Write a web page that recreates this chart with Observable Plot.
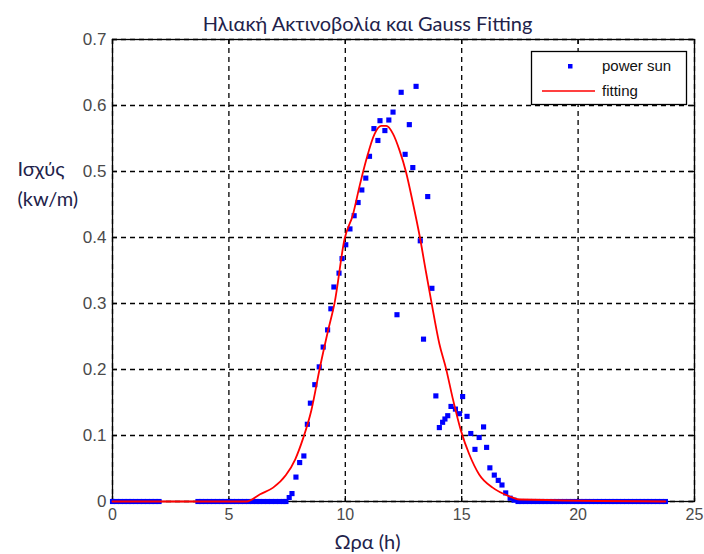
<!DOCTYPE html>
<html>
<head>
<meta charset="utf-8">
<script src="https://cdn.jsdelivr.net/npm/d3@7"></script>
<script src="https://cdn.jsdelivr.net/npm/@observablehq/plot@0.6"></script>
<style>
  html, body { margin: 0; padding: 0; background: #fff; }
  #chart { width: 704px; height: 554px; }
</style>
</head>
<body>
<div id="chart"></div>
<script>
// Night-time samples (power 0)
const nightHours = [
  0, 0.17, 0.33, 0.5, 0.67, 0.83, 1, 1.17, 1.33, 1.5, 1.67, 1.83, 2,
  3.67, 3.83, 4, 4.17, 4.33, 4.5, 4.67, 4.83, 5, 5.17, 5.33, 5.5, 5.67, 5.83,
  6, 6.17, 6.33, 6.5, 6.67, 6.83, 7, 7.17, 7.33, 7.45,
  17.42, 17.58, 17.75, 17.92, 18.08, 18.25, 18.42, 18.58, 18.75, 18.92,
  19.08, 19.25, 19.42, 19.58, 19.75, 19.92, 20.08, 20.25, 20.42, 20.58,
  20.75, 20.92, 21.08, 21.25, 21.42, 21.58, 21.75, 21.92, 22.08, 22.25,
  22.42, 22.58, 22.75, 22.92, 23.08, 23.25, 23.42, 23.58, 23.75
];

// Daytime samples: hour and measured power (kw/m)
const dayHours = [
  7.59, 7.71, 7.88, 8.04, 8.22, 8.37, 8.50, 8.69, 8.88, 9.05, 9.24, 9.38,
  9.51, 9.73, 9.86, 10.02, 10.20, 10.38, 10.55, 10.71, 10.88, 11.04, 11.23, 11.40,
  11.49, 11.70, 11.87, 12.05, 12.22, 12.40, 12.57, 12.75, 12.90, 13.04, 13.22, 13.36,
  13.54, 13.72, 13.89, 14.04, 14.18, 14.28, 14.40, 14.54, 14.73, 14.90, 15.04, 15.23,
  15.39, 15.57, 15.75, 15.94, 16.07, 16.21, 16.40, 16.57, 16.73, 16.89, 17.08, 17.25
];
const dayPower = [
  0.006, 0.012, 0.037, 0.059, 0.069, 0.117, 0.149, 0.177, 0.204, 0.234, 0.260, 0.292,
  0.325, 0.346, 0.368, 0.389, 0.413, 0.433, 0.453, 0.472, 0.490, 0.523, 0.565, 0.547,
  0.577, 0.562, 0.578, 0.590, 0.283, 0.620, 0.526, 0.571, 0.506, 0.629, 0.395, 0.246,
  0.462, 0.323, 0.160, 0.112, 0.120, 0.125, 0.130, 0.144, 0.140, 0.133, 0.159, 0.129,
  0.103, 0.079, 0.097, 0.113, 0.082, 0.051, 0.040, 0.032, 0.025, 0.013, 0.005, 0.002
];

// Gauss fitting curve
const fitHours = [
  0, 5.76, 6.34, 6.90, 7.45, 7.85, 8.19, 8.54, 8.91, 9.26, 9.54, 9.97, 10.33,
  10.62, 10.91, 11.26, 11.54, 11.76, 12.05, 12.33, 12.61, 12.90, 13.19, 13.47,
  13.69, 14.04, 14.33, 14.61, 14.97, 15.32, 15.75, 16.33, 17.04, 17.48, 23.75
];
const fitPower = [
  0, 0, 0.011, 0.021, 0.040, 0.064, 0.096, 0.138, 0.203, 0.259, 0.301, 0.398, 0.435,
  0.479, 0.519, 0.557, 0.569, 0.569, 0.557, 0.532, 0.499, 0.453, 0.403, 0.347,
  0.304, 0.239, 0.201, 0.157, 0.107, 0.072, 0.041, 0.021, 0.008, 0.003, 0
];

const xTicks = [0, 5, 10, 15, 20, 25];
const yTicks = [0, 0.1, 0.2, 0.3, 0.4, 0.5, 0.6, 0.7];

const titleText = "Ηλιακή Ακτινοβολία και Gauss Fitting";
const yLabelLines = ["Ισχύς", "(kw/m)"];
const xLabelText = "Ωρα (h)";
const legendLabels = ["power sun", "fitting"];

const W = 704, H = 554;
const mL = 112, mR = 10, mT = 39, mB = 53;
const innerH = H - mT - mB;
const innerW = W - mL - mR;
const tickLen = 5;
const labelInk = "#22224a";

const points = [
  ...nightHours.map(h => ({hour: h, power: 0})),
  ...dayHours.map((h, i) => ({hour: h, power: dayPower[i]}))
];
const fit = fitHours.map((h, i) => ({hour: h, power: fitPower[i]}));

const grid = {stroke: "#000", strokeOpacity: 1, strokeWidth: 1.3, strokeDasharray: "5,4"};

const chart = Plot.plot({
  width: W,
  height: H,
  marginLeft: mL,
  marginRight: mR,
  marginTop: mT,
  marginBottom: mB,
  style: {fontFamily: "'Liberation Sans', Arial, sans-serif", fontSize: "16px", background: "#fff"},
  x: {domain: [0, 25]},
  y: {domain: [0, 0.7]},
  marks: [
    Plot.gridX(xTicks, grid),
    Plot.gridY(yTicks, grid),
    Plot.frame({stroke: "#000", strokeWidth: 1.3}),
    // inward tick marks on all four sides
    Plot.ruleX(xTicks, {x: d => d, insetTop: innerH - tickLen, stroke: "#000", strokeWidth: 1.3}),
    Plot.ruleX(xTicks, {x: d => d, insetBottom: innerH - tickLen, stroke: "#000", strokeWidth: 1.3}),
    Plot.ruleY(yTicks, {y: d => d, insetRight: innerW - tickLen, stroke: "#000", strokeWidth: 1.3}),
    Plot.ruleY(yTicks, {y: d => d, insetLeft: innerW - tickLen, stroke: "#000", strokeWidth: 1.3}),
    Plot.axisX(xTicks, {anchor: "bottom", tickSize: 0, tickPadding: 7, label: null, fill: "#4a4a4a", fontSize: 16}),
    Plot.axisY(yTicks, {anchor: "left", tickSize: 0, tickPadding: 6, label: null, fill: "#4a4a4a", fontSize: 17,
      tickFormat: d => String(d)}),
    Plot.dot(points, {x: "hour", y: "power", symbol: "square", r: 2.9, fill: "#0000ff", stroke: null}),
    Plot.line(fit, {x: "hour", y: "power", stroke: "#ff0000", strokeWidth: 1.8, curve: "monotone-x"}),
    Plot.text([titleText], {frameAnchor: "top-left", dx: 255, dy: -23, textAnchor: "middle",
      fontFamily: "Lato, sans-serif", fontSize: 20, fill: labelInk}),
    Plot.text([xLabelText], {frameAnchor: "bottom-left", dx: 255, dy: 47, textAnchor: "middle",
      fontFamily: "Lato, sans-serif", fontSize: 20, fill: labelInk}),
    Plot.text([yLabelLines[0]], {frameAnchor: "top-left", dx: -95, dy: 122, textAnchor: "start",
      fontFamily: "Lato, sans-serif", fontSize: 20, fill: labelInk}),
    Plot.text([yLabelLines[1]], {frameAnchor: "top-left", dx: -95, dy: 152, textAnchor: "start",
      fontFamily: "Lato, sans-serif", fontSize: 20, fill: labelInk})
  ]
});

// Legend box in the upper-right corner of the axes
const svg = d3.select(chart);
const lg = svg.append("g")
  .attr("font-family", "'Liberation Sans', Arial, sans-serif")
  .attr("font-size", 15)
  .attr("text-anchor", "start");
lg.append("rect").attr("x", 531.5).attr("y", 51.5).attr("width", 155).attr("height", 53)
  .attr("fill", "#fff").attr("stroke", "#000").attr("stroke-width", 1.3);
lg.append("rect").attr("x", 568).attr("y", 64).attr("width", 4.5).attr("height", 4.5).attr("fill", "#0000ff");
lg.append("line").attr("x1", 542).attr("x2", 595).attr("y1", 91).attr("y2", 91)
  .attr("stroke", "#ff0000").attr("stroke-width", 1.6);
legendLabels.forEach((t, i) => {
  lg.append("text").attr("x", 602).attr("y", 66 + i * 25).attr("dy", "0.35em")
    .attr("text-anchor", "start").attr("fill", "#111").text(t);
});

document.getElementById("chart").appendChild(chart);
</script>
</body>
</html>
